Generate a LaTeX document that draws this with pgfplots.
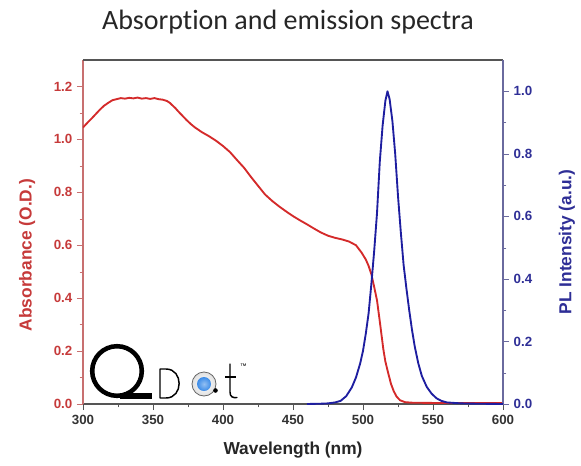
\documentclass[border=0pt]{standalone}
\usepackage{fontspec}
\setmainfont{Liberation Sans}
\newfontfamily\titlefont[Ligatures=NoCommon]{Carlito}
\usepackage{pgfplots}
\pgfplotsset{compat=1.18}

\definecolor{absred}{HTML}{D42A2A}
\definecolor{plblue}{HTML}{1E1EA0}
\definecolor{redtxt}{HTML}{C63A3A}
\definecolor{bluetxt}{HTML}{2E2E96}
\definecolor{redaxis}{HTML}{C87070}
\definecolor{blueaxis}{HTML}{6A6A9E}
\definecolor{grayaxis}{HTML}{555555}
\definecolor{dotblue}{HTML}{3C8CE8}

% absorbance
\pgfplotstableread{
wl    A
300   1.045
303   1.062
306   1.078
309   1.095
312   1.112
315   1.127
318   1.138
321   1.148
324   1.152
327   1.156
330   1.154
333   1.157
336   1.155
339   1.158
342   1.154
345   1.156
348   1.153
351   1.156
354   1.152
357   1.150
360   1.145
362   1.138
364   1.128
366   1.118
368   1.106
370   1.095
372   1.084
374   1.073
377   1.058
380   1.045
385   1.027
390   1.012
395   0.995
400   0.975
405   0.952
410   0.922
415   0.893
420   0.858
425   0.825
430   0.792
435   0.768
440   0.747
445   0.728
450   0.710
455   0.694
460   0.679
465   0.663
470   0.648
475   0.636
480   0.628
485   0.622
490   0.614
495   0.600
499   0.572
502   0.546
504   0.522
506   0.490
508   0.442
510   0.392
512   0.312
514.5 0.208
516   0.160
518   0.117
520   0.076
522   0.048
524   0.028
526.5 0.014
530   0.007
535   0.005
550   0.004
600   0.004
}\absdata

% photoluminescence
\pgfplotstableread{
wl    I
460   0.000
470   0.001
475   0.002
480   0.005
484   0.010
488   0.025
492   0.053
495   0.085
498   0.130
500   0.170
502   0.225
504   0.290
506   0.385
508   0.490
510   0.610
512   0.775
514   0.890
516   0.970
517.5 1.000
519   0.975
521   0.905
523   0.800
525   0.665
527   0.550
529   0.445
531   0.370
533   0.300
535   0.237
537   0.183
539.5 0.130
542   0.090
545.5 0.055
549   0.033
552.6 0.018
556   0.010
560   0.005
570   0.002
580   0.001
600   0.000
}\pldata

\pgfplotsset{
  qd/.style={
    width=315pt, height=258pt, scale only axis,
    xmin=300, xmax=600,
    tick align=outside,
    major tick length=4.5pt, minor tick length=2.5pt,
    /pgf/number format/assume math mode=true,
    tick label style={font=\fontsize{10}{12}\selectfont\bfseries},
    label style={font=\fontsize{13}{15}\selectfont\bfseries},
  },
}

\begin{document}
\begin{tikzpicture}
\begin{axis}[qd,
  axis x line*=bottom, axis y line*=left,
  ymin=0, ymax=1.3,
  ytick={0,0.2,0.4,0.6,0.8,1.0,1.2}, minor y tick num=1,
  xtick={300,350,400,450,500,550,600}, minor x tick num=1,
  yticklabel style={text=redtxt, /pgf/number format/.cd, fixed, fixed zerofill, precision=1},
  xticklabel style={text=black!80},
  y axis line style={redaxis, line width=0.8pt},
  x axis line style={grayaxis, line width=0.8pt},
  ytick style={redaxis}, xtick style={grayaxis},
  xlabel={Wavelength (nm)},
  xlabel style={text=black!85, at={(axis description cs:0.5,-0.134)}, anchor=center},
  ylabel={Absorbance (O.D.)},
  ylabel style={text=redtxt, at={(axis description cs:-0.133,0.433)}, anchor=center},
]
\addplot[absred, line width=1.4pt, line join=round] table[x=wl, y=A] {\absdata};
\end{axis}

\begin{axis}[qd,
  axis x line*=top, axis y line*=right,
  xtick=\empty,
  ymin=0, ymax=1.1,
  ytick={0,0.2,0.4,0.6,0.8,1.0}, minor y tick num=1,
  yticklabel style={text=bluetxt, /pgf/number format/.cd, fixed, fixed zerofill, precision=1},
  y axis line style={blueaxis, line width=0.8pt},
  x axis line style={grayaxis, line width=0.8pt},
  ytick style={blueaxis},
  ylabel={PL Intensity (a.u.)},
  ylabel style={text=bluetxt, at={(axis description cs:1.152,0.471)}, anchor=center},
]
\addplot[plblue, line width=1.4pt, line join=round] table[x=wl, y=I] {\pldata};
\end{axis}

% title and logo, placed in picture pixels
\begin{scope}[shift={(-62.25pt,303pt)}, x=0.75pt, y=-0.75pt]
  \node[text=black!85, font=\titlefont\fontsize{21}{25}\selectfont] at (288,22) {Absorption and emission spectra};
  % QDot logo
  \draw[line width=3.4pt] (117,371) circle[radius=24.8];
  \draw[line width=3.8pt] (120,396) -- (151.5,396);
  \draw[line width=1.1pt, line join=round] (160,369) -- (166,369) .. controls (183.5,369) and (183.5,398) .. (166,398) -- (160,398) -- cycle;
  \shade[inner color=white, outer color=black!12] (204,384) circle[radius=12];
  \draw[black!60, line width=0.6pt] (204,384) circle[radius=12];
  \shade[inner color=dotblue!55, outer color=dotblue] (204,384) circle[radius=7];
  \fill[black] (215.5,390.5) circle[radius=2.3];
  \draw[line width=1.1pt, line cap=round] (230,364) -- (230,392) .. controls (230,397) and (233,398) .. (237,397.5);
  \draw[line width=1.1pt] (225,377) -- (236,377);
  \node[font=\fontsize{5}{6}\selectfont, inner sep=0pt] at (243.5,366) {™};
\end{scope}

\pgfresetboundingbox
\useasboundingbox (-62.25pt,-45.75pt) rectangle (373.5pt,303pt);
\end{tikzpicture}
\end{document}
